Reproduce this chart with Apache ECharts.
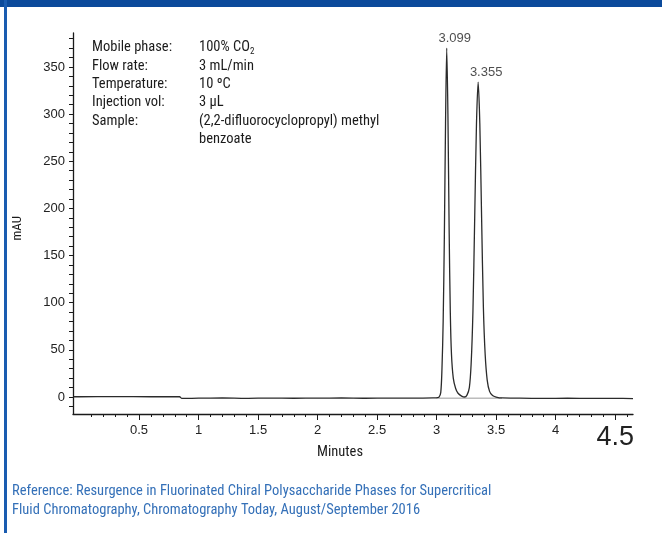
<!DOCTYPE html>
<html>
<head>
<meta charset="utf-8">
<script src="https://cdn.jsdelivr.net/npm/echarts@6/dist/echarts.min.js"></script>
<style>
html,body{margin:0;padding:0;background:#fff;}
#chart{width:662px;height:533px;}
</style>
</head>
<body>
<div id="chart"></div>
<script>
// ---- data ----
var timeMin = [-0.05, 0.00, 0.30, 0.60, 0.84, 0.86, 1.00, 1.20, 1.40, 1.60, 1.80, 2.00, 2.20, 2.40, 2.60, 2.80, 2.97,
  3.00, 3.02, 3.035, 3.045, 3.055, 3.065, 3.075, 3.085, 3.095, 3.105, 3.115, 3.125, 3.14, 3.16, 3.18, 3.21, 3.235,
  3.255, 3.275, 3.29, 3.305, 3.32, 3.335, 3.349, 3.363, 3.378, 3.393, 3.408, 3.425, 3.445, 3.47, 3.50, 3.55,
  3.70, 3.90, 4.10, 4.30, 4.50, 4.65];
var absorbance = [0.3, 0.3, 0.4, 0.3, 0.3, -1.5, -1.2, -1.0, -1.4, -1.1, -1.3, -1.2, -1.0, -1.3, -1.1, -1.2, -1.0,
  -0.8, 0.0, 5, 30, 80, 170, 290, 370, 300, 180, 90, 45, 20, 9, 4, 1, 0,
  2, 10, 35, 90, 190, 290, 334, 290, 190, 95, 45, 18, 6, 1.5, 0, -1.0,
  -1.2, -1.4, -1.3, -1.5, -1.5, -1.6];
var baselineTime = [3.00, 3.55];
var baselineValue = [-1.2, -1.2];
var peakTime = [3.085, 3.349];
var peakHeight = [370, 334];
var peakLabel = ['3.099', '3.355'];
var xLabelValues = [0.5, 1, 1.5, 2, 2.5, 3, 3.5, 4, 4.5];
var xMinorTicks = [0.1,0.2,0.3,0.4,0.6,0.7,0.8,0.9,1.1,1.2,1.3,1.4,1.6,1.7,1.8,1.9,2.1,2.2,2.3,2.4,2.6,2.7,2.8,2.9,3.1,3.2,3.3,3.4,3.6,3.7,3.8,3.9,4.1,4.2,4.3,4.4,4.6];
var yLabelValues = [0, 50, 100, 150, 200, 250, 300, 350];
var yTicks = [-10,0,10,20,30,40,50,60,70,80,90,100,110,120,130,140,150,160,170,180,190,200,210,220,230,240,250,260,270,280,290,300,310,320,330,340,350,360,370,380];
var conditionNames = ['Mobile phase:', 'Flow rate:', 'Temperature:', 'Injection vol:', 'Sample:', ''];
var conditionValues = ['100% CO{sub|2}', '3 mL/min', '10 ºC', '3 µL', '(2,2-difluorocyclopropyl) methyl', 'benzoate'];
var referenceLines = ['Reference: Resurgence in Fluorinated Chiral Polysaccharide Phases for Supercritical',
  'Fluid Chromatography, Chromatography Today, August/September 2016'];

var narrow = "'Liberation Sans Narrow','Arial Narrow','Roboto Condensed',sans-serif";
var sans = "'Liberation Sans',Arial,sans-serif";

var trace = timeMin.map(function (t, i) { return [t, absorbance[i]]; });
var base = baselineTime.map(function (t, i) { return [t, baselineValue[i]]; });
var peaks = peakTime.map(function (t, i) { return { value: [t, peakHeight[i]], name: peakLabel[i] }; });

var graphics = [
  { type: 'rect', shape: { x: 0, y: 0, width: 662, height: 7 }, style: { fill: '#0b4a9b' }, silent: true },
  { type: 'rect', shape: { x: 4, y: 0, width: 3, height: 533 }, style: { fill: '#1a5cb0' }, silent: true }
];
conditionNames.forEach(function (n, i) {
  var y = 40 + i * 18.4;
  if (n) graphics.push({ type: 'text', left: 92, top: y, style: { text: n, font: '14.5px ' + narrow, fill: '#1b1b1b' } });
  graphics.push({ type: 'text', left: 199, top: y, style: {
    text: conditionValues[i], font: '14.5px ' + narrow, fill: '#1b1b1b',
    rich: { sub: { font: '9px ' + narrow, fill: '#1b1b1b', verticalAlign: 'bottom', padding: [8, 0, 0, 0] } } } });
});
graphics.push({ type: 'text', left: 317, top: 445, style: { text: 'Minutes', font: '14.5px ' + narrow, fill: '#1b1b1b' } });
graphics.push({ type: 'text', left: 11, top: 216, rotation: Math.PI / 2, style: { text: 'mAU', font: '13px ' + narrow, fill: '#1b1b1b' } });
referenceLines.forEach(function (l, i) {
  graphics.push({ type: 'text', left: 12, top: 484 + i * 19, style: { text: l, font: '14.5px ' + narrow, fill: '#3470b8' } });
});

var chart = echarts.init(document.getElementById('chart'), null, { renderer: 'canvas' });
chart.setOption({
  animation: false,
  backgroundColor: '#ffffff',
  grid: { left: 73, right: 29, top: 33, bottom: 119, containLabel: false },
  xAxis: [{
    type: 'value', min: -0.055, max: 4.65,
    axisLine: { show: true, onZero: false, lineStyle: { color: '#1a1a1a', width: 1.3 } },
    axisTick: { show: true, customValues: xMinorTicks, length: 3, lineStyle: { color: '#1a1a1a' } },
    axisLabel: {
      customValues: xLabelValues, margin: 10, color: '#222', fontFamily: sans, fontSize: 13,
      formatter: function (v) { return v === 4.5 ? '{big|4.5}' : String(v); },
      rich: { big: { fontFamily: sans, fontSize: 27, color: '#222', padding: [0, 0, 0, 0] } }
    },
    splitLine: { show: false }
  }, {
    type: 'value', min: -0.055, max: 4.65, position: 'bottom',
    axisLine: { show: false, onZero: false },
    axisTick: { show: true, customValues: xLabelValues, length: 6, lineStyle: { color: '#1a1a1a' } },
    axisLabel: { show: false }, splitLine: { show: false }
  }],
  yAxis: {
    type: 'value', min: -18, max: 386,
    axisLine: { show: true, onZero: false, lineStyle: { color: '#1a1a1a', width: 1.3 } },
    axisTick: { show: true, customValues: yTicks, length: 4, lineStyle: { color: '#1a1a1a' } },
    axisLabel: { customValues: yLabelValues, margin: 8, color: '#222', fontFamily: sans, fontSize: 13 },
    splitLine: { show: false }
  },
  series: [{
    type: 'line', data: base, symbol: 'none', lineStyle: { color: '#9a9a9a', width: 1 }, silent: true
  }, {
    type: 'line', data: trace, symbol: 'none', smooth: 0.3, lineStyle: { color: '#2b2b2b', width: 1.3 }, silent: true
  }, {
    type: 'scatter', data: peaks, symbolSize: 0, silent: true,
    label: { show: true, position: 'top', offset: [8, 2], formatter: function (p) { return p.name; },
      fontFamily: sans, fontSize: 13, color: '#222' }
  }],
  graphic: graphics
});
</script>
</body>
</html>
